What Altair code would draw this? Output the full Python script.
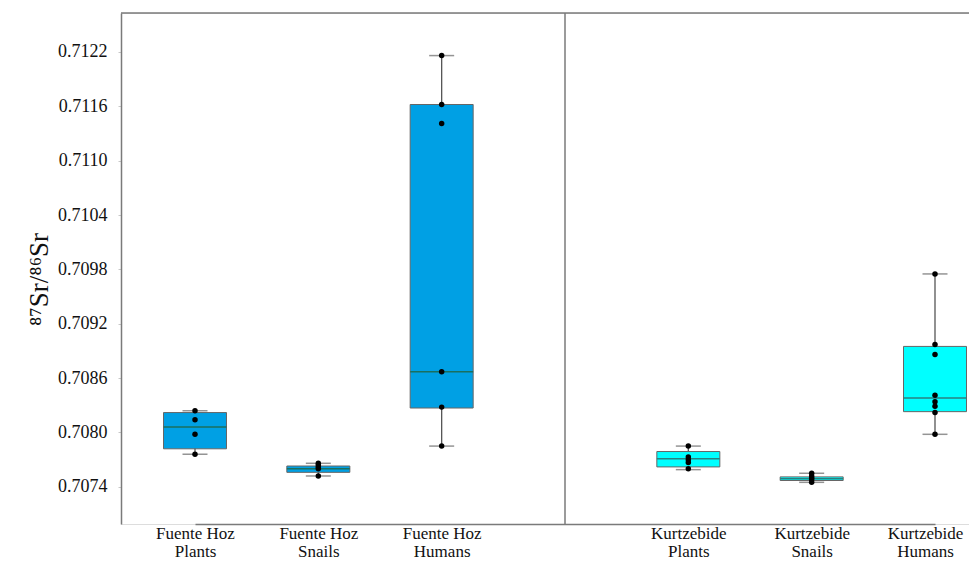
import altair as alt
import pandas as pd

# ---- data ----
categories = ["Fuente Hoz|Plants", "Fuente Hoz|Snails", "Fuente Hoz|Humans", "gap",
              "Kurtzebide|Plants", "Kurtzebide|Snails", "Kurtzebide|Humans"]
box_groups = ["Fuente Hoz|Plants", "Fuente Hoz|Snails", "Fuente Hoz|Humans",
              "Kurtzebide|Plants", "Kurtzebide|Snails", "Kurtzebide|Humans"]
box_site = ["Fuente Hoz", "Fuente Hoz", "Fuente Hoz", "Kurtzebide", "Kurtzebide", "Kurtzebide"]
whisker_low = [0.70776, 0.70752, 0.70785, 0.70759, 0.70745, 0.70798]
q1 = [0.70782, 0.70756, 0.70827, 0.70762, 0.70747, 0.70823]
median = [0.70806, 0.70760, 0.70867, 0.70771, 0.70749, 0.70838]
q3 = [0.70822, 0.70763, 0.71162, 0.70779, 0.70751, 0.70895]
whisker_high = [0.70824, 0.70766, 0.71216, 0.70785, 0.70755, 0.70975]

pts_fh_plants = [0.70776, 0.70798, 0.70814, 0.70824]
pts_fh_snails = [0.70752, 0.70760, 0.70762, 0.70764, 0.70766]
pts_fh_humans = [0.70785, 0.70828, 0.70867, 0.71141, 0.71162, 0.71216]
pts_k_plants = [0.70760, 0.70767, 0.70770, 0.70773, 0.70785]
pts_k_snails = [0.70745, 0.70748, 0.70750, 0.70752, 0.70755]
pts_k_humans = [0.70798, 0.70822, 0.70829, 0.70834, 0.70841, 0.70886, 0.70897, 0.70975]

y_ticks = [0.7074, 0.7080, 0.7086, 0.7092, 0.7098, 0.7104, 0.7110, 0.7116, 0.7122]
y_domain = [0.70699, 0.71263]

sites = ["Fuente Hoz", "Kurtzebide"]
fill_colors = ["#00A0E4", "#00FFFF"]
median_colors = ["#1B6F5E", "#2A8080"]

# ---- tables ----
box_df = pd.DataFrame({"group": box_groups, "site": box_site, "low": whisker_low,
                       "q1": q1, "median": median, "q3": q3, "high": whisker_high})
all_pts = [pts_fh_plants, pts_fh_snails, pts_fh_humans, pts_k_plants, pts_k_snails, pts_k_humans]
pts_df = pd.DataFrame([(g, v) for g, vals in zip(box_groups, all_pts) for v in vals],
                      columns=["group", "value"])
gap_df = pd.DataFrame({"group": ["gap"]})

W, H = 848, 511
FONT = "Liberation Serif"
FRAME = "#7a7a7a"

xscale = alt.Scale(type="point", domain=categories, range=[74, 814], padding=0)
xaxis = alt.Axis(labelExpr="datum.value == 'gap' ? '' : split(datum.value, '|')",
                 labelAngle=0, ticks=False, tickSize=0, labelPadding=1,
                 labelFont=FONT, labelFontSize=17, labelColor="#111",
                 labelLineHeight=18, labelBaseline="top",
                 labelOffset={"condition": {"test": "datum.value == 'Kurtzebide|Humans'", "value": -10},
                              "value": 0},
                 domainColor=FRAME, domainWidth=1.5, grid=False, labelOverlap=False)
x_enc = alt.X("group:N", scale=xscale, axis=xaxis, title=None)

yscale = alt.Scale(domain=y_domain, nice=False, zero=False)
yaxis = alt.Axis(values=y_ticks, format=".4f", grid=False, tickSize=3, tickColor="#c8c8c8",
                 labelPadding=11, labelFont=FONT, labelFontSize=18, labelColor="#111",
                 domainColor=FRAME, domainWidth=1.5,
                 titleFont=FONT, titleFontSize=27, titleFontWeight="normal", titleColor="#111",
                 titleAngle=270, titleX=-74, titleY=266, titleAlign="center",
                 titleBaseline="alphabetic")
YT = "⁸⁷Sr/⁸⁶Sr"


def yenc(field):
    return alt.Y(field, type="quantitative", scale=yscale, axis=yaxis, title=YT)


whiskers = alt.Chart(box_df).mark_rule(color="#555", strokeWidth=1.3).encode(
    x=x_enc, y=yenc("low"), y2="high")
cap_low = alt.Chart(box_df).mark_tick(color="#666", size=25, thickness=1.5).encode(
    x=x_enc, y=yenc("low"))
cap_high = alt.Chart(box_df).mark_tick(color="#666", size=25, thickness=1.5).encode(
    x=x_enc, y=yenc("high"))
boxes = alt.Chart(box_df).mark_bar(size=63, stroke="#666", strokeWidth=1).encode(
    x=x_enc, y=yenc("q1"), y2="q3",
    fill=alt.Fill("site:N", scale=alt.Scale(domain=sites, range=fill_colors), legend=None))
medians = alt.Chart(box_df).mark_tick(size=63, thickness=1.5, opacity=1).encode(
    x=x_enc, y=yenc("median"),
    color=alt.Color("site:N", scale=alt.Scale(domain=sites, range=median_colors), legend=None))
points = alt.Chart(pts_df).mark_circle(color="black", size=30, opacity=1).encode(
    x=x_enc, y=yenc("value"))
top_line = alt.Chart(gap_df).mark_rule(color=FRAME, strokeWidth=1.5).encode(
    x=alt.value(0), x2=alt.value(W), y=alt.value(0))
divider = alt.Chart(gap_df).mark_rule(color=FRAME, strokeWidth=1.5).encode(
    x=x_enc, y=alt.value(0), y2=alt.value(H))

chart = alt.layer(whiskers, cap_low, cap_high, boxes, medians, points, top_line, divider).properties(
    width=W, height=H,
    autosize=alt.AutoSizeParams(type="none"),
    padding={"left": 113, "top": 5, "right": 0, "bottom": 37},
    background="white",
).configure_view(stroke=None).configure_axis(
    labelFont=FONT, titleFont=FONT
).configure(font=FONT)

chart.save("out.html", embed_options={"renderer": "svg", "actions": False})
